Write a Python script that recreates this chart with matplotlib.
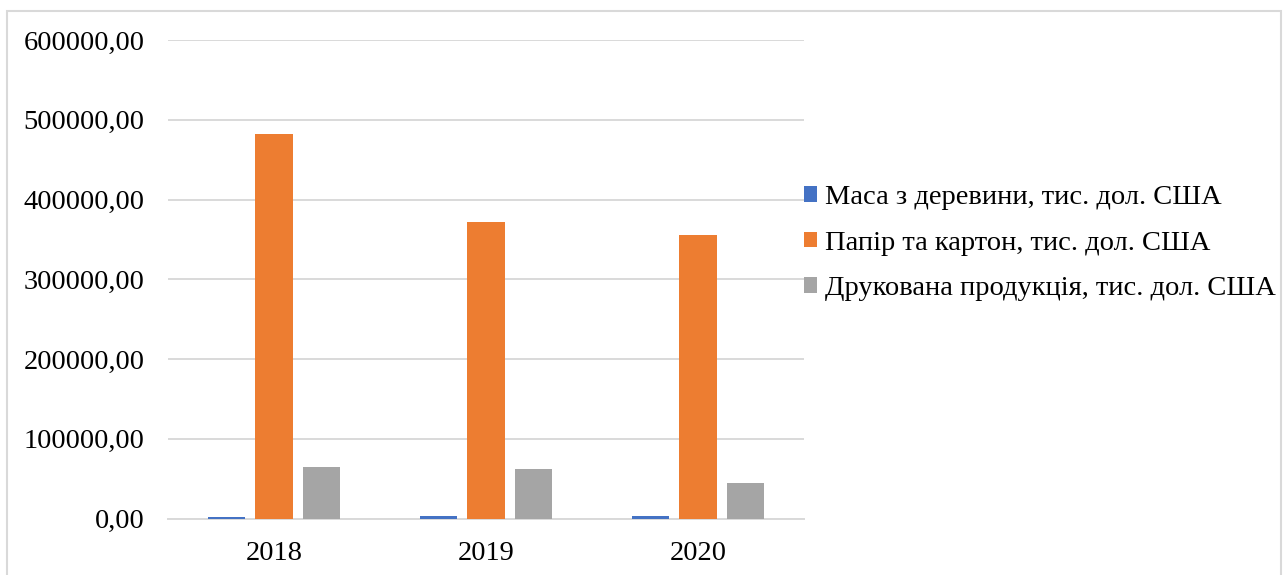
import numpy as np
import matplotlib
matplotlib.use("Agg")
from matplotlib import pyplot as plt
from matplotlib.patches import Rectangle
from matplotlib.ticker import FuncFormatter, MultipleLocator

# data
years = ["2018", "2019", "2020"]
series_names = [
    "Маса з деревини, тис. дол. США",
    "Папір та картон, тис. дол. США",
    "Друкована продукція, тис. дол. США",
]
wood_pulp = [2000, 2700, 3000]
paper = [482500, 372000, 355000]
printed = [64000, 62000, 44000]
colors = ["#4472C4", "#ED7D31", "#A5A5A5"]

plt.rcParams["font.family"] = ["Liberation Serif", "DejaVu Serif"]

fig = plt.figure(figsize=(12.85, 5.75), dpi=100)
ax = fig.add_axes([168 / 1285, 56.5 / 575, 636 / 1285, 478.5 / 575])

x = np.arange(len(years))
width = 0.175
step = 0.222
for i, (vals, name) in enumerate(zip([wood_pulp, paper, printed], series_names)):
    ax.bar(x + (i - 1) * step, vals, width, color=colors[i], label=name, zorder=3)

ax.set_xlim(-0.5, 2.5)
ax.set_ylim(0, 600000)
ax.yaxis.set_major_locator(MultipleLocator(100000))
ax.yaxis.set_major_formatter(FuncFormatter(lambda v, p: f"{v:.2f}".replace(".", ",")))
ax.set_xticks(x)
ax.set_xticklabels(years)
ax.tick_params(axis="both", length=0, labelsize=20.5, colors="black")
ax.tick_params(axis="y", pad=17)
ax.tick_params(axis="x", pad=16)
ax.grid(axis="y", color="#d9d9d9", linewidth=1.4, zorder=0)
for side in ["top", "right", "left"]:
    ax.spines[side].set_visible(False)
ax.spines["bottom"].set_color("#d9d9d9")
ax.spines["bottom"].set_linewidth(1.4)

fig.legend(loc="center left", bbox_to_anchor=(804 / 1285, (575 - 243) / 575),
           frameon=False, fontsize=20.5, handlelength=0.45, handleheight=0.45,
           handletextpad=0.3, labelspacing=0.72, borderpad=0, borderaxespad=0)

# light border round the whole chart
fig.patches.append(Rectangle((7 / 1285, -0.05), 1274 / 1285, (564 / 575) + 0.05,
                             transform=fig.transFigure, fill=False,
                             edgecolor="#d9d9d9", linewidth=1.5))

fig.savefig("out.png", dpi=100)
